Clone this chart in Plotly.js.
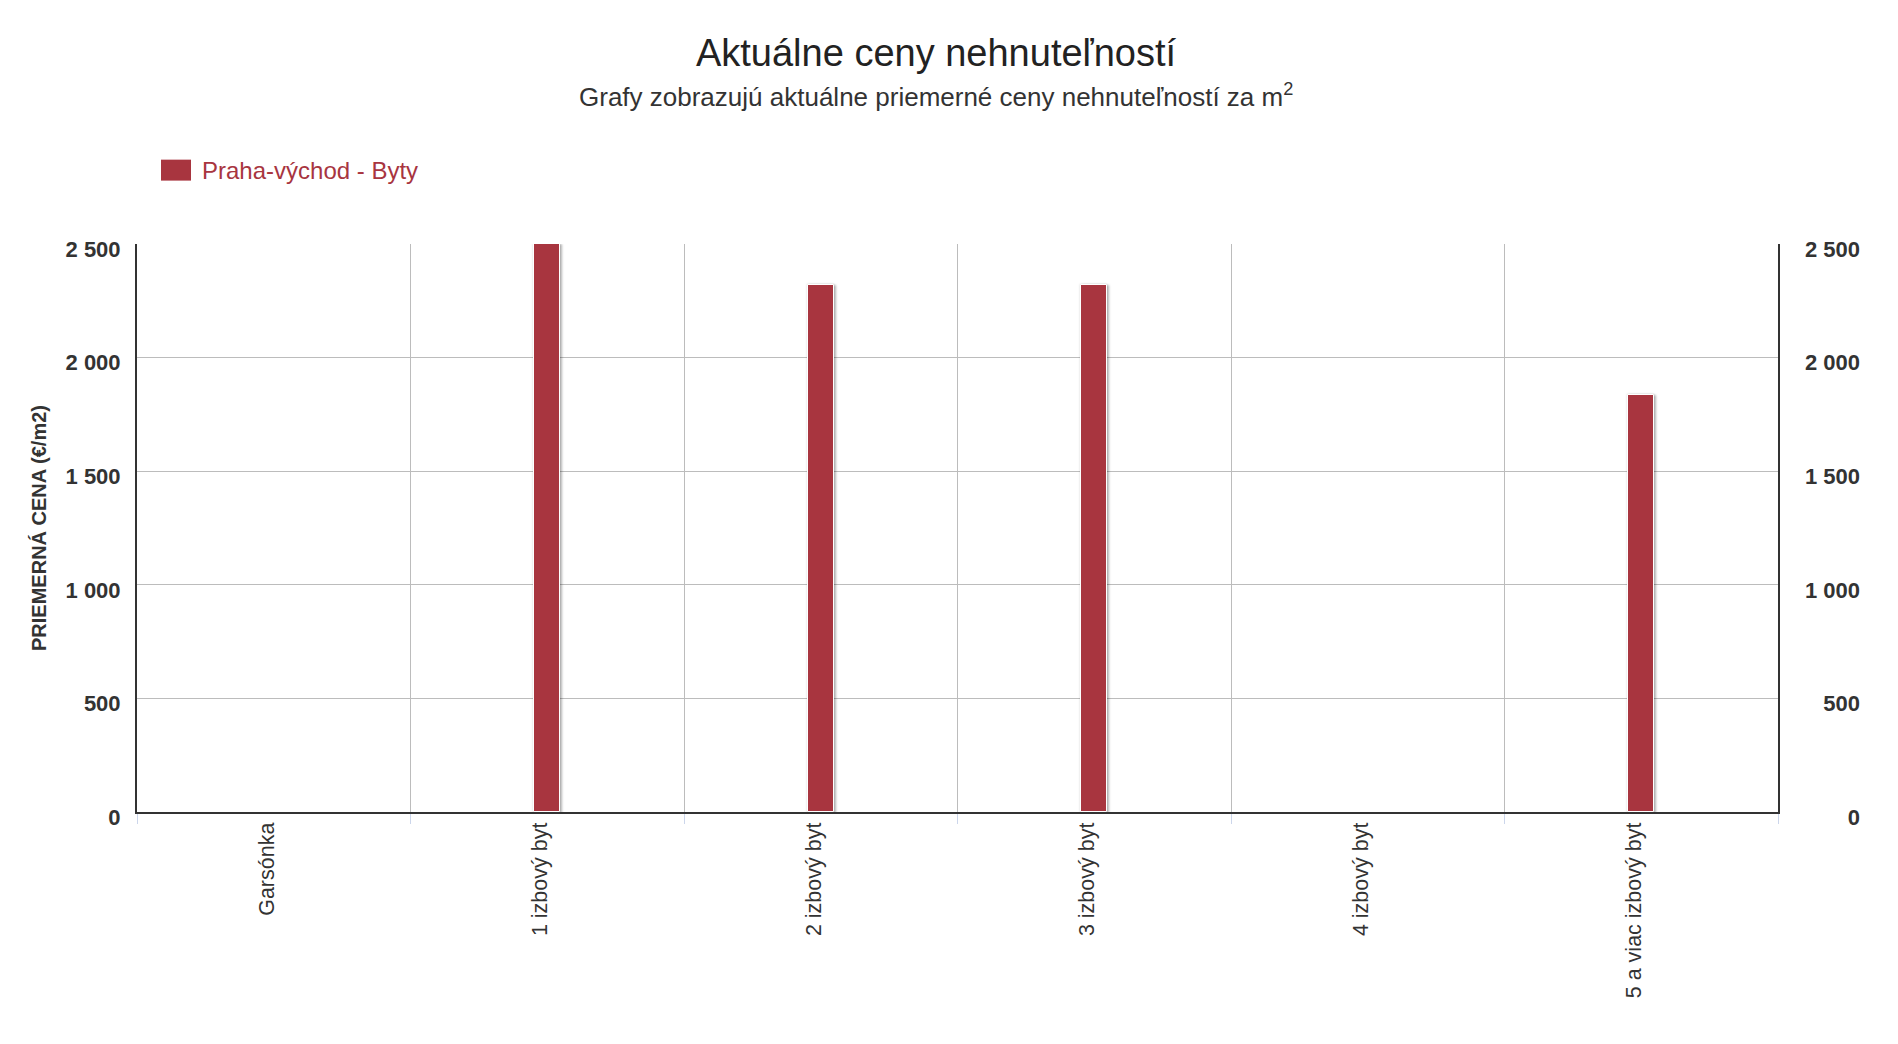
<!DOCTYPE html>
<html>
<head>
<meta charset="utf-8">
<script src="https://cdn.plot.ly/plotly-3.0.1.min.js"></script>
<style>
  html, body { margin: 0; padding: 0; background: #ffffff; }
  #chart { width: 1898px; height: 1044px; }
  /* soft drop shadow under the columns */
  #chart .bars .point path {
    filter: drop-shadow(0 0 1px rgba(0,0,0,0.16)) drop-shadow(2px 1px 1px rgba(0,0,0,0.28));
  }
</style>
</head>
<body>
<div id="chart"></div>
<script>
// Apartment types (x categories)
const categories = ['Garsónka', '1 izbový byt', '2 izbový byt', '3 izbový byt', '4 izbový byt', '5 a viac izbový byt'];
// Average price per m2 (€); no data for studios and 4-room flats
const seriesName = 'Praha-východ - Byty';
const prices = [null, 2500, 2318, 2318, null, 1834];
// Price axis ticks
const priceTicks = [0, 500, 1000, 1500, 2000, 2500];

const W = 1898, H = 1044;
const M = { l: 137, r: 38, t: 243.5, b: 231.5 };
const px = x => (x - M.l) / (W - M.l - M.r);      // pixel -> paper x
const py = y => (H - M.b - y) / (H - M.t - M.b);  // pixel -> paper y

const barColor = '#a8353f';
const font = 'Liberation Sans, Arial, Helvetica, sans-serif';
const tickFont = { family: font, size: 22, color: '#333333', weight: 'bold' };
const gridColor = '#bcbcbc';

const bars = {
  type: 'bar',
  name: seriesName,
  x: categories,
  y: prices,
  width: 0.094,
  marker: { color: barColor, line: { color: '#ffffff', width: 1 } },
  hoverinfo: 'x+y',
  showlegend: false
};

// empty carrier so the mirrored price axis on the right is drawn
const rightAxisCarrier = {
  type: 'scatter', mode: 'markers', x: [], y: [],
  yaxis: 'y2', hoverinfo: 'skip', showlegend: false
};

const layout = {
  width: W,
  height: H,
  margin: { l: M.l, r: M.r, t: M.t, b: M.b, pad: 0 },
  paper_bgcolor: '#ffffff',
  plot_bgcolor: '#ffffff',
  font: { family: font, color: '#333333' },
  separators: ', ',
  bargap: 0,
  title: {
    text: 'Aktuálne ceny nehnuteľností',
    font: { family: font, size: 38, color: '#222222' },
    xref: 'container', x: 936 / W, xanchor: 'center',
    yref: 'container', y: 1 - 53 / H, yanchor: 'middle'
  },
  xaxis: {
    type: 'category',
    domain: [0, px(1778)],
    tickson: 'boundaries',
    ticks: 'outside',
    ticklen: 10,
    tickwidth: 1,
    tickcolor: '#ccd6eb',
    showgrid: true,
    gridcolor: gridColor,
    gridwidth: 1,
    showline: true,
    linecolor: '#333333',
    linewidth: 2,
    zeroline: false,
    tickangle: -90,
    ticklabelshift: -7,
    tickfont: { family: font, size: 21.5, color: '#333333' },
    automargin: false,
    fixedrange: true
  },
  yaxis: {
    range: [0, 2500],
    tickmode: 'array',
    tickvals: priceTicks,
    separatethousands: true,
    showgrid: true,
    gridcolor: gridColor,
    gridwidth: 1,
    showline: true,
    mirror: true,
    linecolor: '#333333',
    linewidth: 2,
    zeroline: false,
    ticks: '',
    ticklabelstandoff: 10,
    ticklabelshift: 5,
    tickfont: tickFont,
    title: {
      text: 'PRIEMERNÁ CENA (€/m2)',
      font: { family: font, size: 20, color: '#333333', weight: 'bold' },
      standoff: 14
    },
    automargin: false,
    fixedrange: true
  },
  yaxis2: {
    overlaying: 'y',
    side: 'left',
    anchor: 'free',
    position: 1,
    range: [0, 2500],
    tickmode: 'array',
    tickvals: priceTicks,
    separatethousands: true,
    showgrid: false,
    showline: false,
    zeroline: false,
    ticks: '',
    ticklabelstandoff: 0,
    ticklabelshift: 5,
    tickfont: tickFont,
    automargin: false,
    fixedrange: true
  },
  shapes: [
    { // legend swatch
      type: 'rect', xref: 'paper', yref: 'paper',
      x0: px(161), x1: px(191), y0: py(180), y1: py(159),
      fillcolor: barColor, line: { width: 0 }
    }
  ],
  annotations: [
    {
      text: 'Grafy zobrazujú aktuálne priemerné ceny nehnuteľností za m<sup>2</sup>',
      xref: 'paper', yref: 'paper', x: px(936), y: py(95),
      xanchor: 'center', yanchor: 'middle', showarrow: false,
      font: { family: font, size: 26, color: '#333333' }
    },
    {
      text: seriesName,
      xref: 'paper', yref: 'paper', x: px(200), y: py(169.5),
      xanchor: 'left', yanchor: 'middle', showarrow: false,
      font: { family: font, size: 24, color: barColor }
    }
  ]
};

Plotly.newPlot('chart', [bars, rightAxisCarrier], layout, { displayModeBar: false, responsive: false });
</script>
</body>
</html>
